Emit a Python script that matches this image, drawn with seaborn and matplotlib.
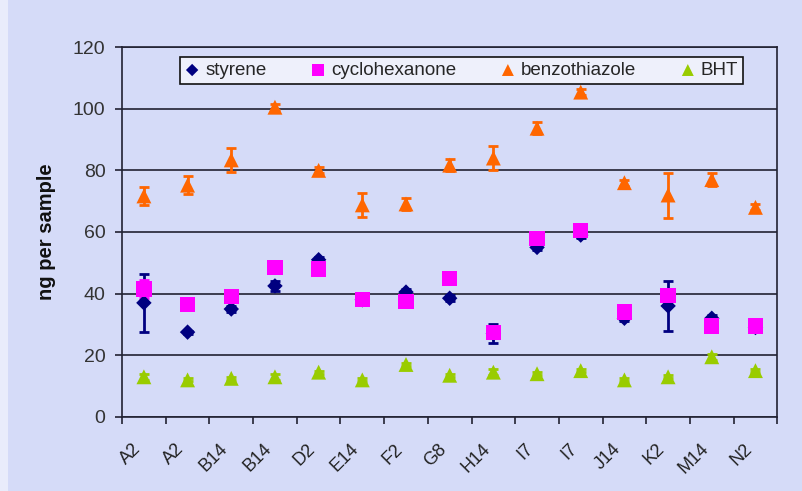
import matplotlib
matplotlib.use("Agg")
import matplotlib.pyplot as plt
import matplotlib.transforms as mtransforms
import numpy as np
import pandas as pd
import seaborn as sns

samples = ["A2", "A2", "B14", "B14", "D2", "E14", "F2", "G8", "H14",
           "I7", "I7", "J14", "K2", "M14", "N2"]

styrene = [37, 27.5, 35, 42.5, 51, 38, 40.5, 38.5, 27, 55, 59, 32, 36, 32, 29]
styrene_err = [9.5, 0.5, 1, 1.5, 1, 0.5, 1, 1, 3, 1, 1, 1, 8, 1, 0.5]

cyclohexanone = [41.5, 36.5, 39, 48.5, 48, 38, 37.5, 45, 27.5, 58, 60.5, 34, 39.5, 29.5, 29.5]
cyclohexanone_err = [3, 0.5, 1.5, 0.5, 1, 0.5, 1, 0.5, 1, 1.5, 1.5, 1, 1.5, 1, 0.5]

benzothiazole = [71.7, 75.2, 83.4, 100.5, 80, 68.8, 69.1, 81.7, 84, 93.7, 105.4, 76, 72, 77, 68]
benzothiazole_err = [3, 3, 4, 1, 1, 4, 2, 2, 4, 2, 1, 1, 7.3, 2, 1]

bht = [13, 12, 12.5, 13, 14.5, 12, 17, 13.5, 14.5, 14, 15, 12, 13, 19.5, 15]
bht_err = [1, 0.5, 0.5, 1, 0.5, 0.5, 0.5, 0.5, 1, 0.5, 0.5, 0.5, 0.5, 1, 0.5]

series = {
    "styrene": (styrene, styrene_err),
    "cyclohexanone": (cyclohexanone, cyclohexanone_err),
    "benzothiazole": (benzothiazole, benzothiazole_err),
    "BHT": (bht, bht_err),
}
colours = {"styrene": "#000080", "cyclohexanone": "#FF00FF",
           "benzothiazole": "#FF6600", "BHT": "#99CC00"}
markers = {"styrene": "D", "cyclohexanone": "s",
           "benzothiazole": "^", "BHT": "^"}
sizes = {"styrene": 62, "cyclohexanone": 120, "benzothiazole": 115, "BHT": 115}

rows = []
for name, (vals, errs) in series.items():
    for i, (v, e) in enumerate(zip(vals, errs)):
        rows.append({"pos": i, "compound": name, "value": v, "err": e})
df = pd.DataFrame(rows)

bg = "#D5DBF8"
sns.set_style("white")
plt.rcParams["font.family"] = ["Liberation Sans", "DejaVu Sans"]

fig = plt.figure(figsize=(8.03, 4.91), dpi=100, facecolor=bg)
# light strip down the left edge of the picture
fig.patches.append(plt.Rectangle((0, 0), 0.01, 1, transform=fig.transFigure,
                                 facecolor="#E9ECFB", edgecolor="none", zorder=0))
ax = fig.add_axes([0.152, 0.151, 0.816, 0.753])
ax.set_facecolor(bg)

for name in series:
    sub = df[df["compound"] == name]
    ax.errorbar(sub["pos"], sub["value"], yerr=sub["err"], fmt="none",
                ecolor=colours[name], elinewidth=2, capsize=3.5, capthick=2, zorder=2)
    sns.scatterplot(data=sub, x="pos", y="value", marker=markers[name],
                    color=colours[name], s=sizes[name], edgecolor="none",
                    label=name, ax=ax, zorder=3)

ax.set_xlim(-0.5, len(samples) - 0.5)
ax.set_ylim(0, 120)
ax.set_yticks(np.arange(0, 121, 20))
ax.yaxis.grid(True, color="#222233", linewidth=1.2)
ax.set_axisbelow(True)

ax.set_xticks(np.arange(-0.5, len(samples), 1.0))
ax.set_xticklabels([])
ax.set_xticks(np.arange(len(samples)), minor=True)
ax.set_xticklabels(samples, minor=True, rotation=45, ha="right", va="top",
                   fontsize=13, color="#222222")
shift = mtransforms.ScaledTranslation(-6 / 72, 0, fig.dpi_scale_trans)
for lab in ax.get_xticklabels(minor=True):
    lab.set_transform(lab.get_transform() + shift)
ax.tick_params(axis="x", which="minor", length=0, pad=17)
ax.tick_params(axis="x", which="major", length=5, width=1.2, direction="out",
               color="#222233", bottom=True)
ax.tick_params(axis="y", labelsize=14, length=5, width=1.2, direction="out",
               color="#222233", left=True, labelcolor="#333333", pad=7)

for side in ["left", "right", "bottom", "top"]:
    ax.spines[side].set_color("#222233")
    ax.spines[side].set_linewidth(1.2)

ax.set_xlabel("")
ax.set_ylabel("ng per sample", fontsize=14.5, fontweight="bold", labelpad=12,
              color="#111111")

leg = ax.legend(loc="upper center", bbox_to_anchor=(0.518, 0.973), ncol=4,
                frameon=True, fancybox=False, fontsize=13.5, handletextpad=0.3,
                handlelength=0.8, columnspacing=2.35, borderpad=0.25,
                borderaxespad=0, markerscale=0.8)
leg.get_frame().set_facecolor("#EEF0FB")
leg.get_frame().set_edgecolor("#111111")
leg.get_frame().set_linewidth(1.2)
leg.get_frame().set_alpha(1)

fig.savefig("out.png", dpi=100, facecolor=bg)
